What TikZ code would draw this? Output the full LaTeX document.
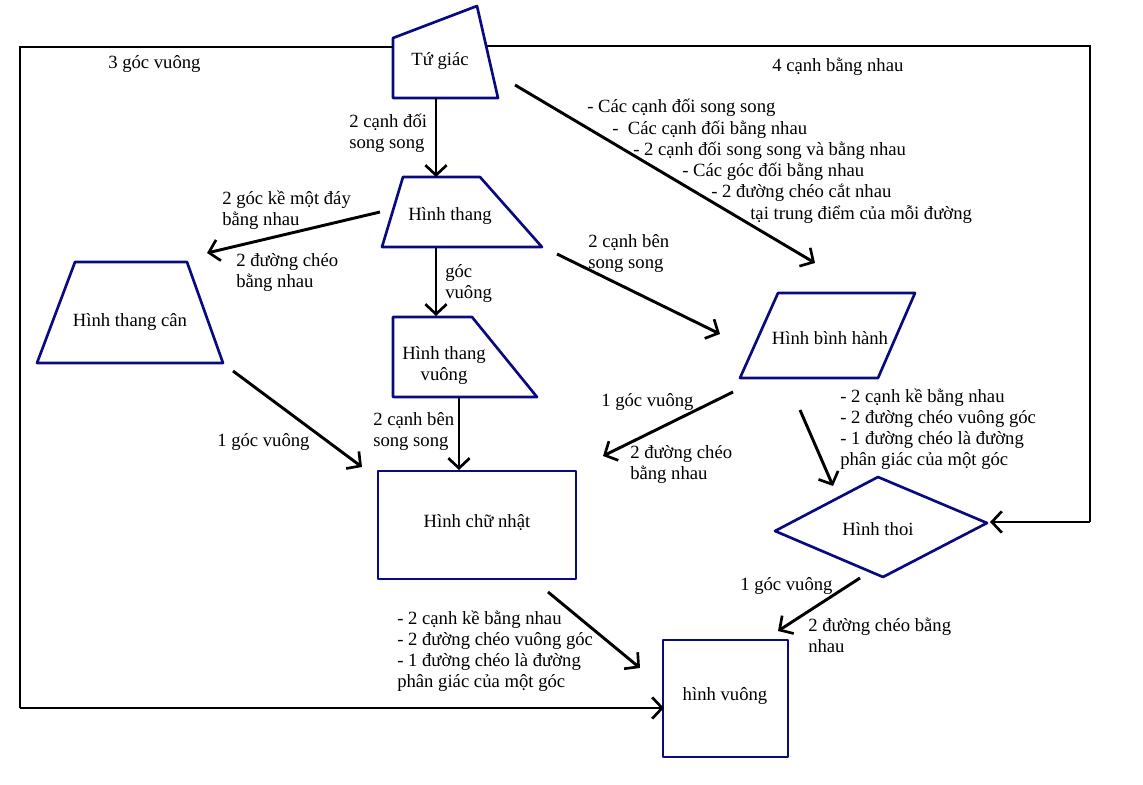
\documentclass[tikz,border=0pt]{standalone}
\usepackage{fontspec}
\setmainfont{Liberation Serif}
\usetikzlibrary{arrows.meta}
\definecolor{shapecol}{RGB}{10,10,128}
\tikzset{
  shp/.style={draw=shapecol, line width=2pt, line join=round},
  conn/.style={draw=black, line width=2.2pt, -{Straight Barb[length=7.5pt,width=16pt,line width=2pt]}},
  frame/.style={draw=black, line width=2.2pt},
  lbl/.style={inner sep=0pt, anchor=north west, align=left, font=\fontsize{14}{15.75}\selectfont},
  txt/.style={inner sep=0pt, align=center, font=\fontsize{14}{15.75}\selectfont},
}
\begin{document}
\begin{tikzpicture}[x=0.75pt,y=-0.75pt]
\useasboundingbox (0,0) rectangle (1143,785);
% ---- shapes ----
\draw[shp] (393,38) -- (477,6) -- (498,98) -- (393,98) -- cycle;
\node[txt] (tugiac) at (440,61) {Tứ giác};
\draw[shp] (403,177) -- (480,177) -- (542,247) -- (382,247) -- cycle;
\node[txt] (thang) at (450,216) {Hình thang};
\draw[shp] (75,262) -- (187,262) -- (223,363) -- (37,363) -- cycle;
\node[txt] (thangcan) at (130,322) {Hình thang cân};
\draw[shp] (393,317) -- (472,317) -- (537,397) -- (393,397) -- cycle;
\node[txt] (thangvuong) at (444,366) {Hình thang\\vuông};
\draw[shp] (778,293) -- (915,293) -- (878,378) -- (740,378) -- cycle;
\node[txt] (binhhanh) at (830,338) {Hình bình hành};
\draw[shp] (378,471) rectangle (576,579);
\node[txt] (chunhat) at (477,523) {Hình chữ nhật};
\draw[shp] (775,531) -- (878,477) -- (987,523) -- (883,577) -- cycle;
\node[txt] (thoi) at (878,529) {Hình thoi};
\draw[shp] (663,640) rectangle (788,757);
\node[txt] (vuong) at (725,696) {hình vuông};
% ---- coordinates ----
\coordinate (tgL) at (393,47);
\coordinate (tgR) at (487,46);
\coordinate (tgB) at (436,98);
\coordinate (tgBR) at (515,85);
\coordinate (c1) at (20,47);
\coordinate (c2) at (20,708);
\coordinate (c3) at (1090,46);
\coordinate (c4) at (1090,522);
\coordinate (thoiR) at (990,522);
\coordinate (hvL) at (664,708);
\coordinate (thT) at (436,177);
\coordinate (thL) at (380,212);
\coordinate (thB) at (436,248);
\coordinate (thBR) at (557,254);
\coordinate (tcTip) at (207,253);
\coordinate (tvT) at (436,316);
\coordinate (tvB) at (459,397);
\coordinate (cnT) at (459,470);
\coordinate (tcB) at (233,371);
\coordinate (cnTL) at (362,467);
\coordinate (bhTip) at (720,334);
\coordinate (bhTop) at (815,263);
\coordinate (bhBL) at (733,392);
\coordinate (bhTip2) at (603,456);
\coordinate (bhB) at (800,410);
\coordinate (thoiT) at (833,486);
\coordinate (thoiB) at (860,578);
\coordinate (hvTip) at (778,631);
\coordinate (cnBR) at (548,592);
\coordinate (hvTL) at (640,668);
% ---- frame ----
\draw[frame] (tgL) -- (c1) -- (c2);
\draw[conn] (c2) -- (hvL);
\draw[frame] (tgR) -- (c3) -- (c4);
\draw[conn] (c4) -- (thoiR);
% ---- connectors ----
\draw[conn] (tgB) -- (thT);
\draw[conn] (thL) -- (tcTip);
\draw[conn] (thB) -- (tvT);
\draw[conn] (tvB) -- (cnT);
\draw[conn] (tcB) -- (cnTL);
\draw[conn] (thBR) -- (bhTip);
\draw[conn] (tgBR) -- (bhTop);
\draw[conn] (bhBL) -- (bhTip2);
\draw[conn] (bhB) -- (thoiT);
\draw[conn] (thoiB) -- (hvTip);
\draw[conn] (cnBR) -- (hvTL);
% ---- labels ----
\node[lbl] (a1) at (108,55) {3 góc vuông};
\node[lbl] (a2) at (772,58) {4 cạnh bằng nhau};
\node[lbl] (a3) at (349,114) {2 cạnh đối\\song song};
\node[lbl] (a4) at (222,191) {2 góc kề một đáy\\bằng nhau};
\node[lbl] (a5) at (236,253) {2 đường chéo\\bằng nhau};
\node[lbl] (a6) at (445,264) {góc\\vuông};
\node[lbl] (a7) at (588,234) {2 cạnh bên\\song song};
\node[lbl] (b1) at (587,99) {- Các cạnh đối song song};
\node[lbl] (b2) at (612,121) {-\ \ Các cạnh đối bằng nhau};
\node[lbl] (b3) at (633,142) {- 2 cạnh đối song song và bằng nhau};
\node[lbl] (b4) at (682,163) {- Các góc đối bằng nhau};
\node[lbl] (b5) at (711,184) {- 2 đường chéo cắt nhau};
\node[lbl] (b6) at (750,205) {tại trung điểm của mỗi đường};
\node[lbl] (a8) at (217,433) {1 góc vuông};
\node[lbl] (a9) at (373,412) {2 cạnh bên\\song song};
\node[lbl] (a10) at (601,393) {1 góc vuông};
\node[lbl] (a11) at (630,445) {2 đường chéo\\bằng nhau};
\node[lbl] (a12) at (840,389) {- 2 cạnh kề bằng nhau\\- 2 đường chéo vuông góc\\- 1 đường chéo là đường\\phân giác của một góc};
\node[lbl] (a13) at (740,577) {1 góc vuông};
\node[lbl] (a14) at (808,618) {2 đường chéo bằng\\nhau};
\node[lbl] (a15) at (397,611) {- 2 cạnh kề bằng nhau\\- 2 đường chéo vuông góc\\- 1 đường chéo là đường\\phân giác của một góc};
\end{tikzpicture}
\end{document}
